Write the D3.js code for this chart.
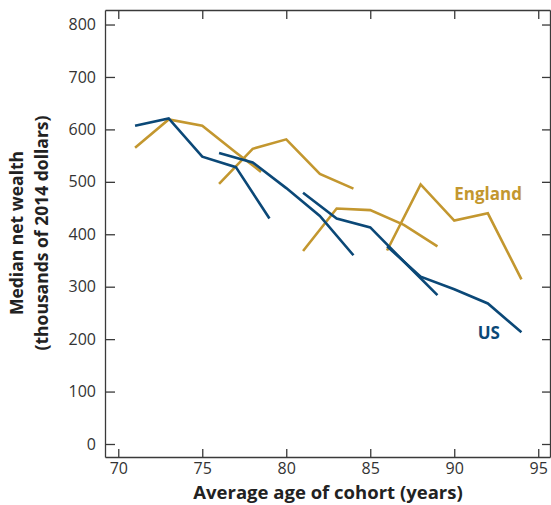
<!DOCTYPE html>
<html>
<head>
<meta charset="utf-8">
<script src="https://cdn.jsdelivr.net/npm/d3@7"></script>
<style>
  body { margin: 0; background: #fff; }
  text { font-family: "Open Sans", sans-serif; }
</style>
</head>
<body>
<div id="chart"></div>
<script>
const WIDTH = 551
const HEIGHT = 505

// cohorts: ages and median net wealth (thousands of 2014 dollars)
const usAges = [
  [71, 73, 75, 77, 79],
  [76, 78, 80, 82, 84],
  [81, 83, 85, 87, 89],
  [86, 88, 90, 92, 94]
]
const usWealth = [
  [607, 621, 548, 528, 430],
  [555, 537, 488, 435, 360],
  [479, 430, 413, 348, 284],
  [377, 319, 295, 268, 213]
]
const engAges = [
  [71, 73, 75, 77, 78.5],
  [76, 78, 80, 82, 84],
  [81, 83, 85, 87, 89],
  [86, 88, 90, 92, 94]
]
const engWealth = [
  [565, 619, 607, 556, 519],
  [496, 563, 581, 515, 487],
  [368, 449, 446, 418, 377],
  [369, 495, 426, 440, 314]
]
const xTicks = [70, 75, 80, 85, 90, 95]
const yTicks = [0, 100, 200, 300, 400, 500, 600, 700, 800]

const US_COLOR = '#0b4877'
const ENG_COLOR = '#c3972f'
const AXIS_COLOR = '#3a3a3a'

const margin = { left: 105, right: 1, top: 10, bottom: 48 }

const svg = d3.select('#chart')
  .append('svg')
  .attr('width', WIDTH)
  .attr('height', HEIGHT)

const x = d3.scaleLinear()
  .domain([69.21, 95.7])
  .range([margin.left, WIDTH - margin.right])

const y = d3.scaleLinear()
  .domain([-24.8, 827.7])
  .range([HEIGHT - margin.bottom, margin.top])

const line = d3.line()
  .x(d => x(d[0]))
  .y(d => y(d[1]))

const drawSeries = (ages, values, color) => {
  ages.forEach((a, i) => {
    svg.append('path')
      .datum(a.map((age, j) => [age, values[i][j]]))
      .attr('d', line)
      .attr('fill', 'none')
      .attr('stroke', color)
      .attr('stroke-width', 2.6)
  })
}

drawSeries(engAges, engWealth, ENG_COLOR)
drawSeries(usAges, usWealth, US_COLOR)

// frame with inward ticks on all sides
const styleAxis = g => {
  g.selectAll('path, line').attr('stroke', AXIS_COLOR).attr('stroke-width', 1.3)
  g.selectAll('text').attr('fill', '#333').attr('font-size', 16)
}

svg.append('g')
  .attr('transform', `translate(${margin.left},0)`)
  .call(d3.axisLeft(y).tickValues(yTicks).tickSizeInner(-10).tickSizeOuter(0).tickPadding(9))
  .call(styleAxis)

svg.append('g')
  .attr('transform', `translate(${WIDTH - margin.right},0)`)
  .call(d3.axisRight(y).tickValues(yTicks).tickSizeInner(-8).tickSizeOuter(0).tickFormat(''))
  .call(styleAxis)

svg.append('g')
  .attr('transform', `translate(0,${HEIGHT - margin.bottom})`)
  .call(d3.axisBottom(x).tickValues(xTicks).tickSizeInner(-8).tickSizeOuter(0).tickPadding(6))
  .call(styleAxis)

svg.append('g')
  .attr('transform', `translate(0,${margin.top})`)
  .call(d3.axisTop(x).tickValues(xTicks).tickSizeInner(-9).tickSizeOuter(0).tickFormat(''))
  .call(styleAxis)

// series labels
svg.append('text')
  .attr('x', x(90))
  .attr('y', y(465))
  .attr('fill', ENG_COLOR)
  .attr('font-size', 17)
  .attr('font-weight', 'bold')
  .text('England')

svg.append('text')
  .attr('x', x(91.4))
  .attr('y', y(200))
  .attr('fill', US_COLOR)
  .attr('font-size', 17)
  .attr('font-weight', 'bold')
  .text('US')

// axis titles
svg.append('text')
  .attr('x', 328)
  .attr('y', 499)
  .attr('text-anchor', 'middle')
  .attr('font-size', 18.5)
  .attr('font-weight', 'bold')
  .attr('fill', '#222')
  .text('Average age of cohort (years)')

const yTitle = svg.append('text')
  .attr('transform', 'translate(0,233) rotate(-90)')
  .attr('text-anchor', 'middle')
  .attr('font-size', 17.5)
  .attr('font-weight', 'bold')
  .attr('fill', '#222')

yTitle.append('tspan').attr('x', 0).attr('y', 23).text('Median net wealth')
yTitle.append('tspan').attr('x', 0).attr('y', 48).text('(thousands of 2014 dollars)')
</script>
</body>
</html>
